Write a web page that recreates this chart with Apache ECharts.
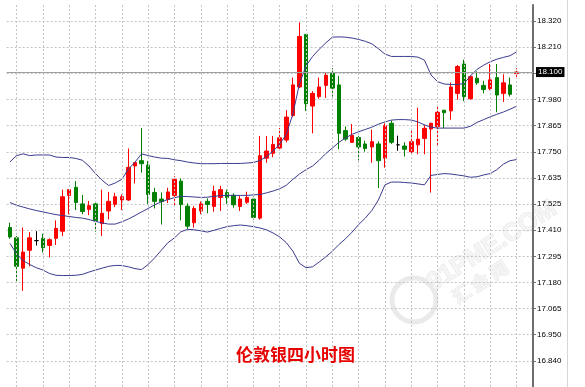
<!DOCTYPE html>
<html>
<head>
<meta charset="utf-8">
<script src="https://cdn.jsdelivr.net/npm/echarts@6/dist/echarts.min.js"></script>
<style>html,body{margin:0;padding:0;background:#fff}#c{width:585px;height:387px}</style>
</head>
<body>
<div id="c"></div>
<script>
// ---- data ----
const title = '伦敦银四小时图';
const open = [17.423,17.378,17.246,17.324,17.366,17.376,17.345,17.376,17.407,17.563,
17.598,17.526,17.502,17.526,17.440,17.495,17.524,17.543,17.543,17.691,
17.714,17.695,17.576,17.547,17.545,17.563,17.625,17.516,17.444,17.495,
17.537,17.515,17.554,17.575,17.563,17.515,17.533,17.547,17.464,17.725,
17.746,17.769,17.804,17.911,18.035,18.264,17.952,17.993,18.042,18.094,
18.044,17.845,17.794,17.815,17.787,17.774,17.787,17.725,17.877,17.783,
17.778,17.753,17.783,17.811,17.852,17.863,17.934,17.931,18.007,18.135,
17.984,18.073,18.042,18.028,18.076,18.007,18.044,18.093];
const close = [17.382,17.254,17.316,17.378,17.366,17.335,17.370,17.419,17.557,17.588,
17.532,17.493,17.518,17.452,17.485,17.537,17.557,17.557,17.685,17.706,
17.701,17.567,17.537,17.536,17.578,17.633,17.523,17.429,17.506,17.526,
17.523,17.581,17.588,17.554,17.522,17.547,17.554,17.467,17.736,17.756,
17.785,17.814,17.904,18.044,18.255,17.962,18.007,18.035,18.086,18.030,
17.833,17.808,17.824,17.774,17.767,17.797,17.714,17.866,17.794,17.783,
17.764,17.797,17.808,17.855,17.877,17.925,17.923,18.035,18.124,17.993,
18.080,18.053,18.024,18.066,18.000,18.053,18.003,18.100];
const low = [17.374,17.188,17.147,17.254,17.345,17.314,17.293,17.347,17.386,17.481,
17.499,17.481,17.477,17.405,17.386,17.458,17.512,17.499,17.539,17.615,
17.662,17.526,17.506,17.436,17.530,17.514,17.454,17.417,17.423,17.481,
17.485,17.492,17.495,17.526,17.509,17.495,17.526,17.457,17.457,17.705,
17.729,17.760,17.794,17.904,18.030,17.931,17.833,17.984,17.987,17.993,
17.764,17.801,17.791,17.715,17.753,17.705,17.595,17.684,17.787,17.757,
17.732,17.746,17.742,17.742,17.575,17.774,17.856,17.893,17.980,17.973,
17.980,18.044,18.007,18.021,17.925,17.970,17.993,18.072];
const high = [17.444,17.386,17.423,17.403,17.407,17.396,17.376,17.454,17.588,17.590,
17.625,17.565,17.539,17.535,17.588,17.578,17.574,17.567,17.767,17.708,
17.856,17.712,17.596,17.576,17.596,17.646,17.636,17.528,17.516,17.537,
17.550,17.605,17.605,17.588,17.572,17.560,17.579,17.558,17.822,17.822,
17.822,17.856,17.934,18.076,18.316,18.264,18.017,18.076,18.096,18.117,
18.083,17.863,17.874,17.822,17.801,17.849,17.798,17.877,17.889,17.823,
17.794,17.852,17.945,17.870,17.880,17.955,17.934,18.055,18.131,18.154,
18.086,18.103,18.062,18.135,18.135,18.090,18.076,18.117];
const bandUpper = [17.709,17.736,17.744,17.736,17.739,17.739,17.739,17.730,17.728,17.728,
17.724,17.716,17.691,17.658,17.629,17.606,17.617,17.633,17.678,17.708,
17.744,17.736,17.730,17.725,17.724,17.718,17.714,17.708,17.704,17.701,
17.701,17.701,17.702,17.702,17.702,17.702,17.704,17.706,17.715,17.732,
17.756,17.787,17.828,17.918,18.049,18.127,18.168,18.199,18.227,18.252,
18.253,18.252,18.248,18.242,18.234,18.223,18.202,18.178,18.168,18.168,
18.168,18.168,18.165,18.152,18.087,18.058,18.048,18.046,18.046,18.050,
18.083,18.112,18.130,18.145,18.156,18.164,18.171,18.188];
const bandMiddle = [17.532,17.520,17.512,17.504,17.497,17.491,17.485,17.479,17.475,17.471,
17.467,17.464,17.458,17.450,17.443,17.438,17.438,17.448,17.460,17.475,
17.491,17.506,17.522,17.535,17.545,17.553,17.559,17.558,17.556,17.554,
17.555,17.559,17.562,17.563,17.563,17.563,17.563,17.565,17.567,17.574,
17.582,17.592,17.607,17.633,17.656,17.675,17.691,17.716,17.745,17.769,
17.794,17.813,17.829,17.840,17.850,17.860,17.873,17.883,17.891,17.893,
17.893,17.891,17.883,17.870,17.860,17.856,17.856,17.856,17.856,17.856,
17.864,17.881,17.893,17.905,17.916,17.926,17.938,17.951];
const bandLower = [17.354,17.308,17.279,17.262,17.248,17.238,17.223,17.215,17.214,17.214,
17.215,17.219,17.229,17.238,17.246,17.254,17.258,17.258,17.252,17.244,
17.240,17.262,17.291,17.324,17.357,17.378,17.405,17.415,17.413,17.409,
17.403,17.411,17.419,17.427,17.431,17.434,17.431,17.427,17.421,17.413,
17.399,17.382,17.357,17.320,17.267,17.248,17.252,17.273,17.295,17.320,
17.349,17.374,17.403,17.436,17.464,17.497,17.543,17.609,17.621,17.621,
17.619,17.617,17.613,17.609,17.650,17.654,17.658,17.656,17.652,17.648,
17.642,17.644,17.652,17.658,17.675,17.699,17.714,17.719];
const yTickLabels = ['18.320','18.210','18.100','17.980','17.865','17.750','17.635',
  '17.525','17.410','17.295','17.180','17.065','16.950','16.840'];
const bidPrice = 18.100;
const bidLabel = '18.100';

// ---- chart ----
const N_BARS = open.length;
const N_SLOTS = N_BARS + 2;            // empty room at the right edge
const categories = Array.from({length: N_SLOTS}, (_, i) => String(i));
const candles = open.map((o, i) => [o, close[i], low[i], high[i]]);
const Y_STEP = 0.1138;
const Y_MIN = 147 * Y_STEP;            // 16.7286
const Y_MAX = 18.392;
const gridCols = [];
for (let i = 1; i < N_BARS; i += 4) gridCols.push({xAxis: i});

const chart = echarts.init(document.getElementById('c'), null, {renderer: 'canvas'});
const bandStyle = {color: '#3b3b8f', width: 1};
chart.setOption({
  animation: false,
  backgroundColor: '#ffffff',
  title: {
    text: title, left: 236, top: 346, padding: 0,
    textStyle: {color: '#e60000', fontSize: 17, fontWeight: 'bold', fontFamily: '"Noto Sans CJK SC", sans-serif'}
  },
  grid: {left: 6.7, right: 52, top: 5, bottom: -21.5},
  xAxis: {
    type: 'category', data: categories, boundaryGap: true,
    axisLine: {show: false}, axisTick: {show: false}, axisLabel: {show: false}, splitLine: {show: false}
  },
  yAxis: {
    type: 'value', position: 'right', min: Y_MIN, max: Y_MAX, interval: Y_STEP, scale: true,
    axisLine: {show: true, lineStyle: {color: '#6e6e6e', width: 2}},
    axisTick: {show: true, length: 3, lineStyle: {color: '#6e6e6e'}},
    axisLabel: {
      show: true, margin: 4, fontSize: 8, color: '#000',
      fontFamily: '"Liberation Sans", Arial, sans-serif', showMaxLabel: false,
      formatter: v => {
        const k = Math.round((v - Y_MIN) / Y_STEP);
        const s = yTickLabels[yTickLabels.length - k];
        if (!s || s === bidLabel) return '';
        return s;
      }
    },
    splitLine: {show: true, showMaxLine: false, lineStyle: {color: '#c4c4c4', type: [2, 2], width: 1}}
  },
  series: [
    {
      type: 'line', data: [], silent: true, z: 1,
      markLine: {
        symbol: ['none', 'none'], silent: true, animation: false,
        label: {show: false},
        lineStyle: {color: '#c4c4c4', type: [2, 2], width: 1},
        data: gridCols
      }
    },
    {
      type: 'candlestick', data: candles, barWidth: 4, z: 3,
      itemStyle: {
        color: '#ff0000', color0: '#008000',
        borderColor: '#ff0000', borderColor0: '#008000', borderColorDoji: '#000000', borderWidth: 1
      },
      markLine: {
        symbol: ['none', 'none'], silent: true, animation: false,
        lineStyle: {color: '#a0a0a0', type: 'solid', width: 1},
        label: {
          show: true, position: 'end', formatter: bidLabel, distance: 3,
          backgroundColor: '#000', color: '#fff', fontSize: 8, padding: [1, 2, 1, 2],
          fontFamily: '"Liberation Sans", Arial, sans-serif'
        },
        data: [{yAxis: bidPrice}]
      }
    },
    {type: 'line', data: bandUpper, symbol: 'none', lineStyle: bandStyle, z: 4, silent: true},
    {type: 'line', data: bandMiddle, symbol: 'none', lineStyle: bandStyle, z: 4, silent: true},
    {type: 'line', data: bandLower, symbol: 'none', lineStyle: bandStyle, z: 4, silent: true}
  ],
  graphic: [
    {type: 'line', shape: {x1: 567.5, y1: 0, x2: 567.5, y2: 387}, style: {stroke: '#d6d6d6', lineWidth: 1}, silent: true},
    {type: 'circle', shape: {cx: 414, cy: 300, r: 22}, style: {fill: 'none', stroke: '#eaeaea', lineWidth: 5}, silent: true, z: 0},
    {type: 'text', x: 492, y: 246, rotation: 0.56, silent: true, z: 0,
      style: {text: '91PME.COM', font: 'bold 25px "Liberation Sans", Arial', fill: '#f5f5f5', stroke: '#e4e4e4', lineWidth: 1, align: 'center', verticalAlign: 'middle'}},
    {type: 'text', x: 480, y: 282, rotation: 0.56, silent: true, z: 0,
      style: {text: '汇 金 网', font: 'bold 18px "Noto Sans CJK SC"', fill: '#f5f5f5', stroke: '#e6e6e6', lineWidth: 1, align: 'center', verticalAlign: 'middle'}}
  ]
});
</script>
</body>
</html>
